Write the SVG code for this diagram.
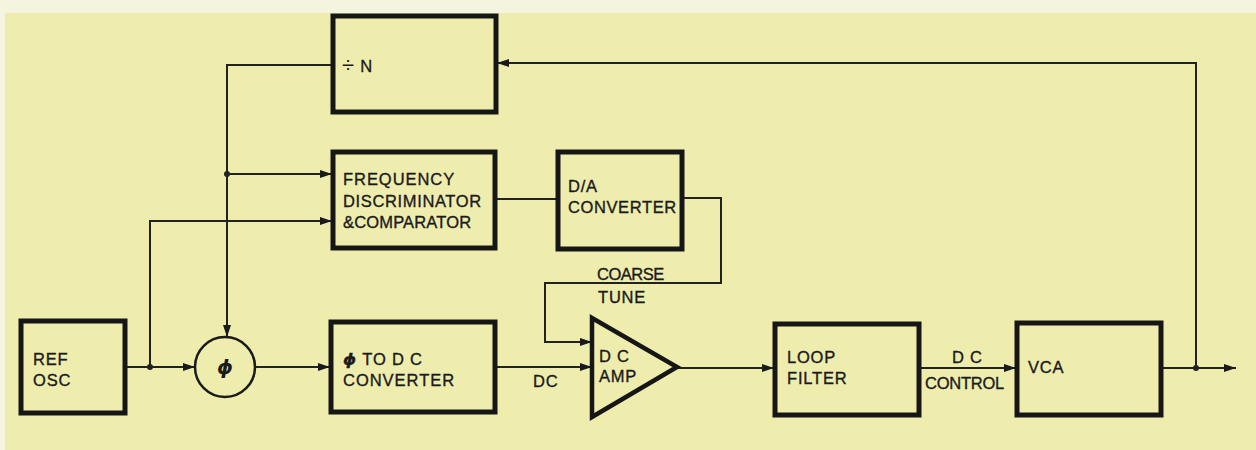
<svg xmlns="http://www.w3.org/2000/svg" width="1256" height="450" viewBox="0 0 1256 450">
<style>
.box{fill:none;stroke:#161616;stroke-width:5}
.ln{fill:none;stroke:#222;stroke-width:2}
.t{font-family:"Liberation Sans",Arial,sans-serif;font-size:16.5px;fill:#1a1a1a;stroke:#1a1a1a;stroke-width:0.35;letter-spacing:0.8px}
.dot{fill:#222}
</style>
<defs>
<marker id="arr" markerUnits="userSpaceOnUse" markerWidth="14" markerHeight="10" refX="12" refY="5" orient="auto">
<path d="M0,1 L12,5 L0,9 Z" fill="#1a1a1a"/>
</marker>
</defs>
<rect x="0" y="0" width="1256" height="450" fill="#efedae"/>
<rect x="0" y="0" width="1256" height="13" fill="#f5f4de"/>
<rect x="0" y="0" width="5" height="450" fill="#f5f4de"/>

<g id="connectors">
<path class="ln" d="M125,367 H195" marker-end="url(#arr)"/>
<path class="ln" d="M255,367 H330" marker-end="url(#arr)"/>
<path class="ln" d="M150,367 V221 H332" marker-end="url(#arr)"/>
<path class="ln" d="M332,65 H227 V337" marker-end="url(#arr)"/>
<path class="ln" d="M227,174 H332" marker-end="url(#arr)"/>
<path class="ln" d="M495,199 H557"/>
<path class="ln" d="M682,198 H721 V283 H545 V342 H592" marker-end="url(#arr)"/>
<path class="ln" d="M495,367 H592" marker-end="url(#arr)"/>
<path class="ln" d="M677,368 H774" marker-end="url(#arr)"/>
<path class="ln" d="M920,368 H1016" marker-end="url(#arr)"/>
<path class="ln" d="M1161,368 H1236" marker-end="url(#arr)"/>
<path class="ln" d="M1196,368 V63 H497" marker-end="url(#arr)"/>
<circle class="dot" cx="150" cy="367" r="3"/>
<circle class="dot" cx="227" cy="174" r="3"/>
<circle class="dot" cx="1196" cy="368" r="3"/>
<text class="t" x="533" y="387">DC</text>
<text class="t" x="597" y="280" textLength="68">COARSE</text>
<text class="t" x="598" y="303">TUNE</text>
<text class="t" x="952" y="363">D C</text>
<text class="t" x="925" y="389" textLength="80">CONTROL</text>
</g>

<g id="ref-osc">
<rect class="box" x="21" y="321" width="104" height="92"/>
<text class="t" x="33" y="365">REF</text>
<text class="t" x="33" y="386">OSC</text>
</g>

<g id="phase-detector">
<circle cx="225" cy="367" r="30" fill="none" stroke="#1a1a1a" stroke-width="2.5"/>
<text x="225" y="374" text-anchor="middle" font-family="DejaVu Sans,sans-serif" font-size="20" font-weight="bold" font-style="italic" fill="#1a1a1a">ϕ</text>
</g>

<g id="divide-n">
<rect class="box" x="333" y="16" width="163" height="96"/>
<text class="t" x="342" y="72"><tspan font-size="22" stroke-width="0">÷</tspan> N</text>
</g>

<g id="freq-disc">
<rect class="box" x="333" y="152" width="162" height="96"/>
<text class="t" x="343" y="185" textLength="112">FREQUENCY</text>
<text class="t" x="343" y="207" textLength="139">DISCRIMINATOR</text>
<text class="t" x="343" y="228" textLength="129">&amp;COMPARATOR</text>
</g>

<g id="da-converter">
<rect class="box" x="558" y="152" width="124" height="97"/>
<text class="t" x="568" y="192">D/A</text>
<text class="t" x="568" y="213" textLength="109">CONVERTER</text>
</g>

<g id="phi-dc-converter">
<rect class="box" x="331" y="322" width="164" height="90"/>
<text class="t" x="343" y="365"><tspan font-family="DejaVu Sans,sans-serif" font-style="italic" font-weight="bold">ϕ</tspan> TO D C</text>
<text class="t" x="343" y="386" textLength="112">CONVERTER</text>
</g>

<g id="dc-amp">
<polygon points="592,318 677,367 592,417" fill="none" stroke="#161616" stroke-width="4.5" stroke-linejoin="miter"/>
<text class="t" x="599" y="362">D C</text>
<text class="t" x="599" y="382">AMP</text>
</g>

<g id="loop-filter">
<rect class="box" x="775" y="324" width="144" height="91"/>
<text class="t" x="787" y="363">LOOP</text>
<text class="t" x="787" y="384">FILTER</text>
</g>

<g id="vca">
<rect class="box" x="1017" y="323" width="144" height="92"/>
<text class="t" x="1028" y="373">VCA</text>
</g>
</svg>
